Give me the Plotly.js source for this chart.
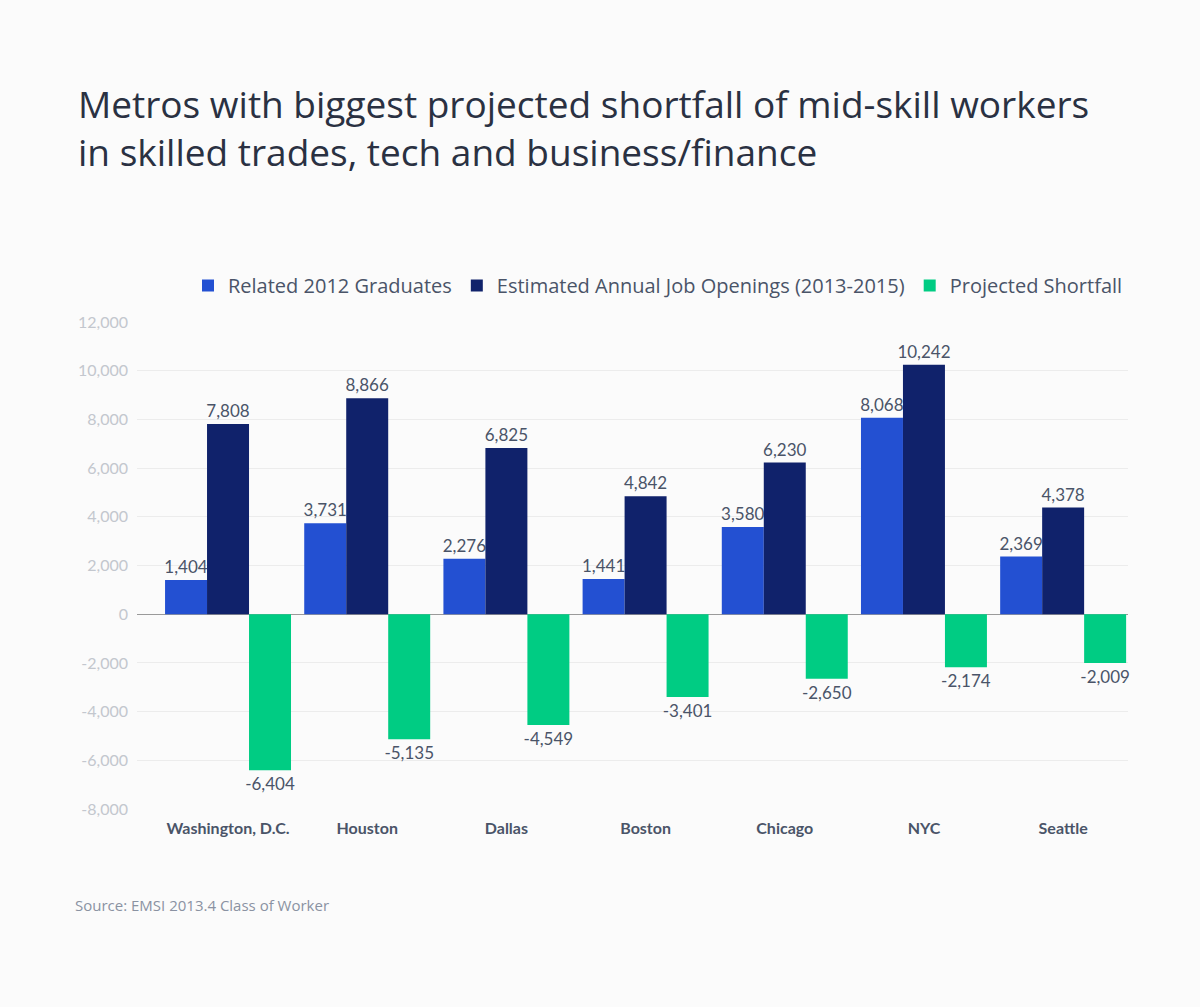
<!DOCTYPE html>
<html>
<head>
<meta charset="utf-8">
<script src="https://cdn.plot.ly/plotly-3.0.1.min.js"></script>
<style>
html,body{margin:0;padding:0;background:#fbfbfb;}
#chart{width:1200px;height:1007px;}
</style>
</head>
<body>
<div id="chart"></div>
<script>
const metros = ["Washington, D.C.", "Houston", "Dallas", "Boston", "Chicago", "NYC", "Seattle"];
const graduates = [1404, 3731, 2276, 1441, 3580, 8068, 2369];
const openings = [7808, 8866, 6825, 4842, 6230, 10242, 4378];
const shortfall = [-6404, -5135, -4549, -3401, -2650, -2174, -2009];
const yTicks = [-8000, -6000, -4000, -2000, 0, 2000, 4000, 6000, 8000, 10000, 12000];

const FONT = "Lato, 'Open Sans', sans-serif";
const WIDE = "'Open Sans', Lato, sans-serif";
const labelFont = {family: FONT, size: 17, color: "#4a5468"};

function barTrace(name, vals, color) {
  return {
    type: "bar", name: name, x: metros, y: vals,
    marker: {color: color},
    text: vals.map(v => v.toLocaleString("en-US")),
    textposition: "outside",
    constraintext: "none",
    textfont: labelFont,
    cliponaxis: false,
    hoverinfo: "x+y+name"
  };
}

const data = [
  barTrace("Related 2012 Graduates", graduates, "#2350d2"),
  barTrace("Estimated Annual Job Openings (2013-2015)", openings, "#10226b"),
  barTrace("Projected Shortfall", shortfall, "#00cc83")
];

const layout = {
  width: 1200, height: 1007,
  paper_bgcolor: "#fbfbfb", plot_bgcolor: "#fbfbfb",
  margin: {l: 137, r: 72, t: 322, b: 198},
  barmode: "group", bargap: 0.095, bargroupgap: 0,
  font: {family: FONT},
  title: {
    text: "Metros with biggest projected shortfall of mid-skill workers<br>in skilled trades, tech and business/finance",
    x: 78/1200, xref: "container", xanchor: "left",
    y: 1 - 118/1007, yref: "container", yanchor: "middle",
    font: {family: WIDE, size: 37, color: "#2a3142"}
  },
  showlegend: true,
  legend: {
    orientation: "h", x: 1, xanchor: "right", y: 1 + 17/487, yanchor: "bottom",
    xref: "paper", yref: "paper",
    font: {family: WIDE, size: 20, color: "#4a5468"},
    bgcolor: "rgba(0,0,0,0)", traceorder: "normal",
    itemwidth: 30
  },
  xaxis: {
    type: "category",
    range: [-0.654, 6.466],
    showgrid: false, zeroline: false, showline: false,
    ticks: "", ticklabelstandoff: 8,
    tickfont: {family: FONT, size: 16, color: "#4a5468", weight: "bold"}
  },
  yaxis: {
    range: [-8000, 12000],
    tickvals: yTicks,
    ticktext: yTicks.map(v => v.toLocaleString("en-US")),
    showgrid: true, gridcolor: "#ececec", gridwidth: 1,
    zeroline: true, zerolinecolor: "#9a9a9a", zerolinewidth: 1,
    showline: false, ticks: "",
    tickfont: {family: FONT, size: 16, color: "#c3c7ce"},
    ticklabelstandoff: 8
  },
  annotations: [{
    text: "Source: EMSI 2013.4 Class of Worker",
    xref: "paper", yref: "paper",
    x: -64/991, xanchor: "left",
    y: -(905 - 809) / 487, yanchor: "middle",
    showarrow: false,
    font: {family: WIDE, size: 15, color: "#8a92a2"}
  }]
};

Plotly.newPlot("chart", data, layout, {displayModeBar: false, staticPlot: true});
</script>
</body>
</html>
